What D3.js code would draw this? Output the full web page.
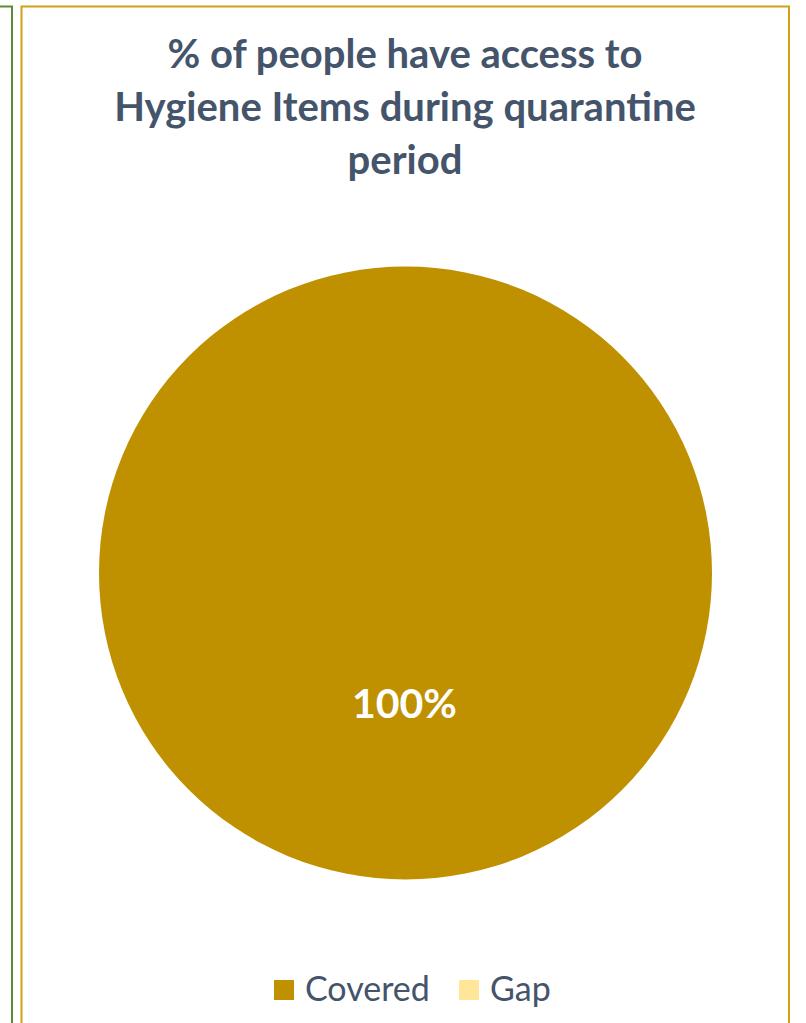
<!DOCTYPE html>
<html><head><meta charset="utf-8">
<script src="https://cdn.jsdelivr.net/npm/d3@7"></script>
<style>html,body{margin:0;padding:0;background:#fff;}svg{display:block;}</style>
</head><body>
<svg id="c" width="806" height="1023"></svg>
<script>
const categories = ["Covered", "Gap"];
const values = [100, 0];
const colors = ["#BF9000", "#FFE699"];
const titleLines = ["% of people have access to", "Hygiene Items during quarantine", "period"];

const svg = d3.select("#c");
const font = "Lato, 'Open Sans', sans-serif";
svg.append("path").attr("d", "M0,6.5 H12 V1023").attr("fill","none").attr("stroke","#5B8C3A").attr("stroke-width",2);
svg.append("rect").attr("x",21.5).attr("y",6.5).attr("width",767.5).attr("height",1030)
  .attr("fill","none").attr("stroke","#D4A017").attr("stroke-width",2);

const t = svg.append("text").attr("text-anchor","middle").attr("font-family",font)
  .attr("font-weight",700).attr("font-size",40).attr("fill","#44546A");
titleLines.forEach((l,i)=>t.append("tspan").attr("x",405).attr("y",68+i*53).text(l));

const cx = 405.5, cy = 573, r = 306.5;
const pie = d3.pie().sort(null).value(d=>d.v);
const data = pie(categories.map((c,i)=>({c, v: values[i], col: colors[i]})));
const arc = d3.arc().innerRadius(0).outerRadius(r);
const g = svg.append("g").attr("transform",`translate(${cx},${cy})`);
g.selectAll("path").data(data).join("path").attr("d",arc).attr("fill",d=>d.data.col);
g.selectAll("text").data(data.filter(d=>d.data.v>0)).join("text")
  .attr("x",-1).attr("y",145).attr("text-anchor","middle")
  .attr("font-family",font).attr("font-weight",700).attr("font-size",41).attr("fill","#fff")
  .text(d=>d.data.v+"%");

const legX = [274, 459];
const lg = svg.append("g");
categories.forEach((c,i)=>{
  lg.append("rect").attr("x",legX[i]).attr("y",980).attr("width",20).attr("height",20).attr("fill",colors[i]);
  lg.append("text").attr("x",legX[i]+31).attr("y",1001).attr("font-family",font)
    .attr("font-size",34).attr("fill","#44546A").text(c);
});
</script>
</body></html>
